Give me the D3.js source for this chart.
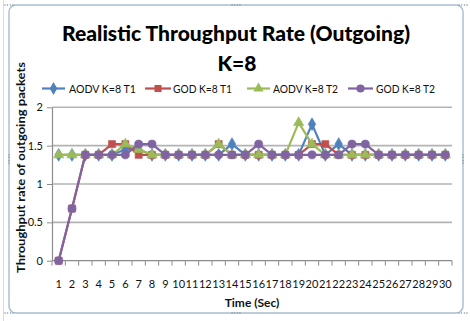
<!DOCTYPE html>
<html><head><meta charset="utf-8">
<script src="https://cdn.jsdelivr.net/npm/d3@7"></script>
<style>html,body{margin:0;padding:0;background:#fff;}svg{display:block;}</style>
</head><body>
<script>
const categories = d3.range(1, 31).map(String);
const seriesNames = ["AODV K=8 T1", "GOD K=8 T1", "AODV K=8 T2", "GOD K=8 T2"];
const aodvT1 = [1.38,1.38,1.38,1.38,1.38,1.45,1.45,1.38,1.38,1.38,1.38,1.38,1.38,1.52,1.38,1.38,1.38,1.38,1.38,1.78,1.38,1.52,1.38,1.38,1.38,1.38,1.38,1.38,1.38,1.38];
const godT1  = [0,0.68,1.38,1.38,1.52,1.52,1.38,1.38,1.38,1.38,1.38,1.38,1.52,1.38,1.38,1.38,1.38,1.38,1.38,1.52,1.52,1.38,1.38,1.38,1.38,1.38,1.38,1.38,1.38,1.38];
const aodvT2 = [1.38,1.38,1.38,1.38,1.38,1.52,1.45,1.38,1.38,1.38,1.38,1.38,1.52,1.38,1.38,1.38,1.38,1.38,1.80,1.52,1.38,1.38,1.38,1.38,1.38,1.38,1.38,1.38,1.38,1.38];
const godT2  = [0,0.68,1.38,1.38,1.38,1.38,1.52,1.52,1.38,1.38,1.38,1.38,1.38,1.38,1.38,1.52,1.38,1.38,1.38,1.38,1.38,1.38,1.52,1.52,1.38,1.38,1.38,1.38,1.38,1.38];
const yTicks = [0, 0.5, 1, 1.5, 2];
const yTickLabels = ["0", "0.5", "1", "1.5", "2"];
const titleLines = ["Realistic Throughput Rate (Outgoing)", "K=8"];
const xTitle = "Time (Sec)";
const yTitle = "Throughput rate of outgoing packets";

const colors = ["#4F81BD", "#C0504D", "#9BBB59", "#8064A2"];
const symbols = [d3.symbolDiamond, d3.symbolSquare, d3.symbolTriangle, d3.symbolCircle];
const symSizes = [48, 50, 46, 52];
const allSeries = [aodvT1, godT1, aodvT2, godT2];

const W = 470, H = 321;
const svg = d3.select("body").append("svg").attr("width", W).attr("height", H);
const font = "Lato, 'Open Sans', sans-serif";

// outer sheet hint + frame
svg.append("line").attr("x1",3.5).attr("x2",3.5).attr("y1",0).attr("y2",H).attr("stroke","#cfe0ef").attr("stroke-width",1);
svg.append("rect").attr("x",9).attr("y",5).attr("width",454).attr("height",308).attr("rx",7)
  .attr("fill","#fff").attr("stroke","#a9bccf").attr("stroke-width",1.4);
// selection handles
const handles = [[9,5],[236,5],[463,5],[9,159],[463,159],[9,313],[236,313],[463,313]];
handles.forEach(([hx,hy]) => {
  [-4,-1.5,1.5,4].forEach(o => {
    const vertical = (hx===9||hx===463) && hy===159;
    svg.append("circle").attr("cx", vertical? hx : hx+o).attr("cy", vertical? hy+o : hy).attr("r",0.8).attr("fill","#8a9aab");
  });
});

const x = d3.scaleBand().domain(categories).range([52, 452]);
const y = d3.scaleLinear().domain([0, 2]).range([260.7, 107.3]);

// gridlines
svg.append("g").selectAll("line").data(yTicks.filter(d => d > 0)).join("line")
  .attr("x1", 52).attr("x2", 452).attr("y1", d => y(d)).attr("y2", d => y(d))
  .attr("stroke", "#b3b3b3").attr("stroke-width", 1.6);

// y axis
const yAxis = d3.axisLeft(y).tickValues(yTicks).tickFormat((d,i) => yTickLabels[i]).tickSizeInner(5).tickSizeOuter(0).tickPadding(4);
const gy = svg.append("g").attr("transform", "translate(52,0)").call(yAxis);
gy.select(".domain").attr("stroke", "#8c8c8c").attr("stroke-width", 1.2);
gy.selectAll(".tick line").attr("stroke", "#8c8c8c");
gy.selectAll("text").attr("font-family", font).attr("font-size", 11).attr("fill", "#111");

// x axis
const gx = svg.append("g").attr("transform", "translate(0,260.7)");
gx.append("line").attr("x1", 52).attr("x2", 452).attr("stroke", "#8c8c8c").attr("stroke-width", 1.2);
const bounds = d3.range(0, 31).map(i => 52 + i * x.step());
gx.selectAll("line.tk").data(bounds).join("line").attr("class","tk")
  .attr("x1", d => d).attr("x2", d => d).attr("y1", 0).attr("y2", 5).attr("stroke", "#8c8c8c");
gx.selectAll("text").data(categories).join("text")
  .attr("x", d => x(d) + x.bandwidth()/2).attr("y", 27)
  .attr("text-anchor", "middle").attr("font-family", font).attr("font-size", 11).attr("fill", "#111")
  .text(d => d);

// lines & markers
const line = d3.line().x((d,i) => x(categories[i]) + x.bandwidth()/2).y(d => y(d));
allSeries.forEach((vals, si) => {
  const g = svg.append("g");
  g.append("path").attr("d", line(vals)).attr("fill", "none").attr("stroke", colors[si]).attr("stroke-width", 2.2).attr("stroke-linejoin","round");
  g.selectAll("path.m").data(vals).join("path").attr("class","m")
    .attr("transform", (d,i) => `translate(${x(categories[i]) + x.bandwidth()/2},${y(d)})`)
    .attr("d", d3.symbol().type(symbols[si]).size(symSizes[si])())
    .attr("fill", colors[si]).attr("stroke", colors[si]).attr("stroke-width", 0.6);
});

// title
svg.append("text").attr("x", 236).attr("y", 41).attr("text-anchor","middle")
  .attr("font-family", font).attr("font-weight", "900").attr("font-size", 20).attr("fill","#000")
  .attr("textLength", 348).attr("lengthAdjust","spacingAndGlyphs").text(titleLines[0]);
svg.append("text").attr("x", 237).attr("y", 71).attr("text-anchor","middle")
  .attr("font-family", font).attr("font-weight", "900").attr("font-size", 21).attr("fill","#000").text(titleLines[1]);

// legend
const legendPos = [{l0:42,l1:65,tx:69,tw:67},{l0:145,l1:171,tx:173,tw:59},{l0:247,l1:270,tx:273,tw:65},{l0:348,l1:373,tx:376,tw:59}];
seriesNames.forEach((name, si) => {
  const p = legendPos[si], ly = 88.5;
  svg.append("line").attr("x1", p.l0).attr("x2", p.l1).attr("y1", ly).attr("y2", ly).attr("stroke", colors[si]).attr("stroke-width", 2.2);
  svg.append("path").attr("transform", `translate(${(p.l0+p.l1)/2},${ly})`)
    .attr("d", d3.symbol().type(symbols[si]).size(symSizes[si])()).attr("fill", colors[si]);
  svg.append("text").attr("x", p.tx).attr("y", 92.5).attr("font-family", font).attr("font-size", 11).attr("fill","#111")
    .attr("textLength", p.tw).attr("lengthAdjust","spacingAndGlyphs").text(name);
});

// axis titles
svg.append("text").attr("x", 252).attr("y", 307).attr("text-anchor","middle")
  .attr("font-family", font).attr("font-weight","bold").attr("font-size", 12).attr("fill","#111").text(xTitle);
svg.append("text").attr("transform", "translate(25,167.5) rotate(-90)").attr("text-anchor","middle")
  .attr("font-family", font).attr("font-weight","bold").attr("font-size", 12).attr("fill","#111")
  .attr("textLength", 211).attr("lengthAdjust","spacingAndGlyphs").text(yTitle);
</script>
</body></html>
